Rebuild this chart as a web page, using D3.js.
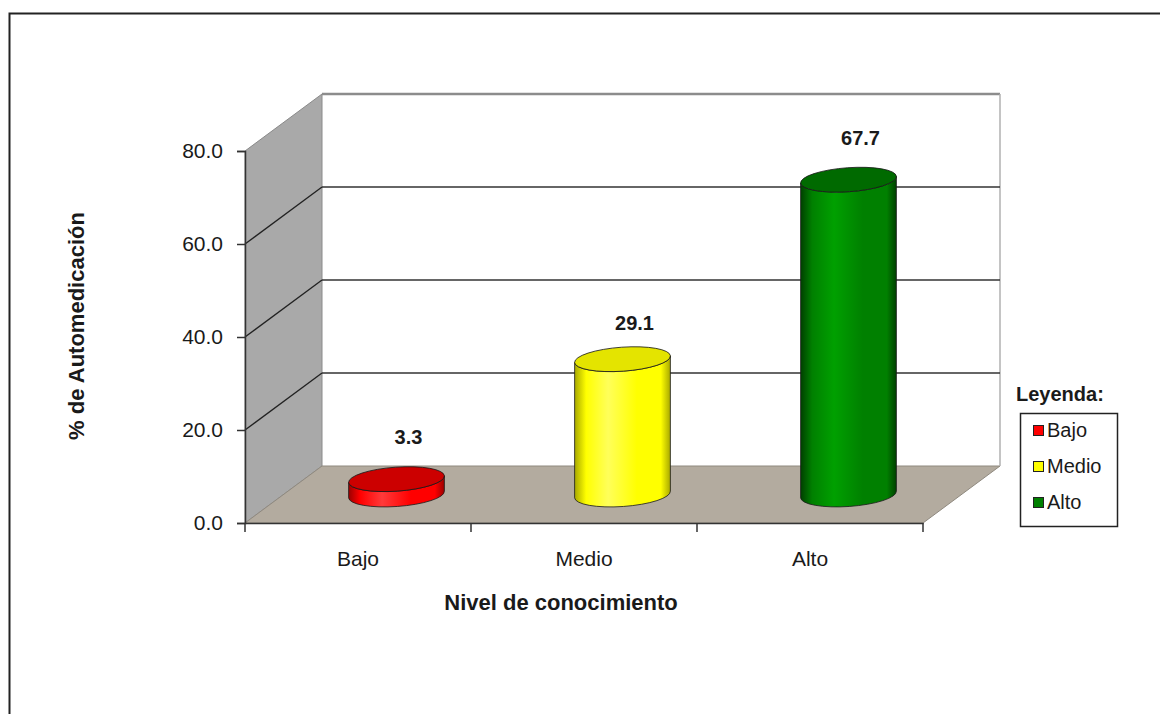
<!DOCTYPE html>
<html>
<head>
<meta charset="utf-8">
<script src="https://cdn.jsdelivr.net/npm/d3@7/dist/d3.min.js"></script>
<style>
  html, body { margin: 0; padding: 0; background: #fff; }
  svg { display: block; font-family: "Liberation Sans", Arial, sans-serif; }
</style>
</head>
<body>
<svg id="chart" width="1160" height="714"></svg>
<script>
// Data
const categories = ["Bajo", "Medio", "Alto"];
const values = [3.3, 29.1, 67.7];
const valueLabels = ["3.3", "29.1", "67.7"];
const yTicks = [0, 20, 40, 60, 80];
const yTickLabels = ["0.0", "20.0", "40.0", "60.0", "80.0"];
const bodyColors = ["#ff0000", "#ffff00", "#008000"];
const topColors = ["#cc0000", "#e4e400", "#006a00"];
const darkColors = ["#9a0000", "#a8a800", "#004000"];
const lightColors = ["#ff3a3a", "#ffff5a", "#00a000"];
const xTitle = "Nivel de conocimiento";
const yTitle = "% de Automedicación";
const legendTitle = "Leyenda:";

const svg = d3.select("#chart");

// Outer frame
svg.append("rect").attr("x", 9.5).attr("y", 13.5).attr("width", 1160).attr("height", 720)
  .attr("fill", "#fff").attr("stroke", "#222").attr("stroke-width", 2);

// Plot geometry: front face and depth offset of the 3D box
const x0 = 245, x1 = 923;
const DX = 77, DY = -57;
const y = d3.scaleLinear().domain([0, 80]).range([523, 151]);
const x = d3.scaleBand().domain(categories).range([x0, x1]);

const g = svg.append("g");

// Back wall
g.append("rect").attr("x", x0 + DX).attr("y", y(80) + DY)
  .attr("width", x1 - x0).attr("height", y(0) - y(80))
  .attr("fill", "#fff");

// Side wall
g.append("path")
  .attr("d", `M${x0},${y(80)} L${x0 + DX},${y(80) + DY} L${x0 + DX},${y(0) + DY} L${x0},${y(0)} Z`)
  .attr("fill", "#a9a9a9").attr("stroke", "#8a8a8a").attr("stroke-width", 1);

// Floor
g.append("path")
  .attr("d", `M${x0},${y(0)} L${x0 + DX},${y(0) + DY} L${x1 + DX},${y(0) + DY} L${x1},${y(0)} Z`)
  .attr("fill", "#b3ab9f").attr("stroke", "#8f897f").attr("stroke-width", 1);

// Back wall borders
g.append("line").attr("x1", x0 + DX).attr("x2", x1 + DX)
  .attr("y1", y(80) + DY).attr("y2", y(80) + DY)
  .attr("stroke", "#8c8c8c").attr("stroke-width", 2.5);
g.append("line").attr("x1", x1 + DX).attr("x2", x1 + DX)
  .attr("y1", y(80) + DY).attr("y2", y(0) + DY)
  .attr("stroke", "#b0b0b0").attr("stroke-width", 1.5);

// Gridlines on back and side walls
const grid = yTicks.filter(t => t > 0 && t < 80);
g.selectAll(".grid-back").data(grid).enter().append("line")
  .attr("x1", x0 + DX).attr("x2", x1 + DX)
  .attr("y1", d => y(d) + DY).attr("y2", d => y(d) + DY)
  .attr("stroke", "#333").attr("stroke-width", 1.3);
g.selectAll(".grid-side").data(grid).enter().append("line")
  .attr("x1", x0).attr("x2", x0 + DX)
  .attr("y1", d => y(d)).attr("y2", d => y(d) + DY)
  .attr("stroke", "#222").attr("stroke-width", 1.3);

// Y axis
const yAxis = d3.axisLeft(y).tickValues(yTicks)
  .tickFormat((d, i) => yTickLabels[i]).tickSize(8).tickPadding(14);
const ya = g.append("g").attr("transform", `translate(${x0},0)`).call(yAxis);
ya.select(".domain").attr("stroke", "#333").attr("stroke-width", 1.5);
ya.selectAll(".tick line").attr("stroke", "#333").attr("stroke-width", 1.5);
ya.selectAll(".tick text").attr("font-size", 21).attr("fill", "#1a1a1a")
  .attr("font-family", "Liberation Sans, Arial, sans-serif");

// X axis
const xAxis = d3.axisBottom(x).tickSize(0).tickPadding(28);
const xa = g.append("g").attr("transform", `translate(0,${y(0)})`).call(xAxis);
xa.select(".domain").attr("stroke", "#333").attr("stroke-width", 1.5);
xa.selectAll(".tick text").attr("font-size", 21).attr("fill", "#1a1a1a")
  .attr("font-family", "Liberation Sans, Arial, sans-serif");
const xEdges = categories.map(c => x(c)).concat([x1]);
g.selectAll(".xtick").data(xEdges).enter().append("line")
  .attr("x1", d => d).attr("x2", d => d)
  .attr("y1", y(0)).attr("y2", y(0) + 9)
  .attr("stroke", "#333").attr("stroke-width", 1.5);

// Gradients for cylinder bodies
const defs = svg.append("defs");
categories.forEach((c, i) => {
  const lg = defs.append("linearGradient").attr("id", "grad" + i)
    .attr("x1", "0%").attr("x2", "100%").attr("y1", "0%").attr("y2", "0%");
  lg.append("stop").attr("offset", "0%").attr("stop-color", darkColors[i]);
  lg.append("stop").attr("offset", "12%").attr("stop-color", bodyColors[i]);
  lg.append("stop").attr("offset", "35%").attr("stop-color", lightColors[i]);
  lg.append("stop").attr("offset", "65%").attr("stop-color", bodyColors[i]);
  lg.append("stop").attr("offset", "90%").attr("stop-color", bodyColors[i]);
  lg.append("stop").attr("offset", "100%").attr("stop-color", darkColors[i]);
});

// Cylinders
const rx = 48, ry = 12, tilt = -4;
const tr = tilt * Math.PI / 180;
const ex = rx * Math.cos(tr), ey = rx * Math.sin(tr);
const cyl = g.selectAll(".cyl").data(values).enter().append("g");
cyl.each(function (v, i) {
  const cx = x(categories[i]) + x.bandwidth() / 2 + DX / 2;
  const base = y(0) + DY / 2;
  const top = y(v) + DY / 2;
  const sel = d3.select(this);
  // body: left side, front arc of top, right side, front arc of base
  const d = `M${cx - ex},${base - ey} L${cx - ex},${top - ey}
    A${rx},${ry} ${tilt} 0 0 ${cx + ex},${top + ey}
    L${cx + ex},${base + ey}
    A${rx},${ry} ${tilt} 0 1 ${cx - ex},${base - ey} Z`;
  sel.append("path").attr("d", d).attr("fill", `url(#grad${i})`)
    .attr("stroke", "#1a1a1a").attr("stroke-width", 0.8);
  sel.append("ellipse").attr("cx", cx).attr("cy", top)
    .attr("rx", rx).attr("ry", ry)
    .attr("transform", `rotate(${tilt},${cx},${top})`)
    .attr("fill", topColors[i]).attr("stroke", "#1a1a1a").attr("stroke-width", 0.8);
});

// Value labels
const labelDy = [-40, -34, -40];
g.selectAll(".val").data(values).enter().append("text")
  .attr("x", (v, i) => x(categories[i]) + x.bandwidth() / 2 + DX / 2 + 12)
  .attr("y", (v, i) => y(v) + DY / 2 + labelDy[i])
  .attr("text-anchor", "middle").attr("dominant-baseline", "middle")
  .attr("font-size", 20).attr("font-weight", "bold").attr("fill", "#1a1a1a")
  .text((v, i) => valueLabels[i]);

// Axis titles
svg.append("text").attr("x", 561).attr("y", 604)
  .attr("text-anchor", "middle").attr("dominant-baseline", "middle")
  .attr("font-size", 22).attr("font-weight", "bold").attr("fill", "#1a1a1a")
  .text(xTitle);
svg.append("text").attr("transform", "translate(78,326) rotate(-90)")
  .attr("text-anchor", "middle").attr("dominant-baseline", "middle")
  .attr("font-size", 22).attr("font-weight", "bold").attr("fill", "#1a1a1a")
  .text(yTitle);

// Legend
svg.append("text").attr("x", 1016).attr("y", 396)
  .attr("dominant-baseline", "middle")
  .attr("font-size", 20).attr("font-weight", "bold").attr("fill", "#1a1a1a")
  .text(legendTitle);
svg.append("rect").attr("x", 1020.5).attr("y", 413.5).attr("width", 97).attr("height", 113)
  .attr("fill", "#fff").attr("stroke", "#222").attr("stroke-width", 1.5);
const leg = svg.selectAll(".leg").data(categories).enter().append("g")
  .attr("transform", (d, i) => `translate(1033,${431 + i * 36})`);
leg.append("rect").attr("x", 0.5).attr("y", -5.5).attr("width", 10).attr("height", 10)
  .attr("fill", (d, i) => bodyColors[i]).attr("stroke", "#222").attr("stroke-width", 1);
leg.append("text").attr("x", 14).attr("y", 1).attr("dominant-baseline", "middle")
  .attr("font-size", 20).attr("fill", "#1a1a1a").text(d => d);
</script>
</body>
</html>
